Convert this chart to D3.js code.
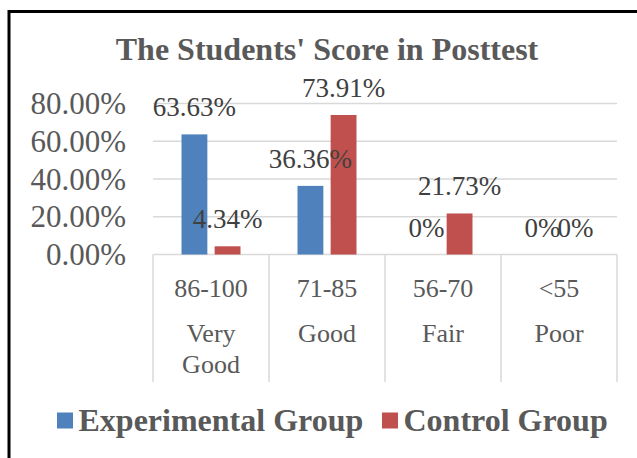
<!DOCTYPE html>
<html>
<head>
<meta charset="utf-8">
<script src="https://cdn.jsdelivr.net/npm/d3@7"></script>
<style>
  body { margin: 0; background: #fff; }
  text { font-family: "Liberation Serif", "Times New Roman", serif; }
</style>
</head>
<body>
<div id="chart"></div>
<script>
var categories = ["86-100", "71-85", "56-70", "<55"];
var categoryNames = [["Very", "Good"], ["Good"], ["Fair"], ["Poor"]];
var series = ["Experimental Group", "Control Group"];
var experimental = [63.63, 36.36, 0, 0];
var control = [4.34, 73.91, 21.73, 0];
var labelsExp = ["63.63%", "36.36%", "0%", "0%"];
var labelsCtl = ["4.34%", "73.91%", "21.73%", "0%"];
var yTicks = [0, 20, 40, 60, 80];

var width = 637;
var height = 458;
var colors = {"Experimental Group": "#4f81bd", "Control Group": "#c0504d"};

var svg = d3.select('#chart')
	.append('svg')
	.attr('width', width)
	.attr('height', height);

// outer frame (only top and left are visible in the picture)
svg.append('rect')
	.attr('x', 9)
	.attr('y', 11.5)
	.attr('width', 700)
	.attr('height', 600)
	.attr('fill', 'none')
	.attr('stroke', '#000')
	.attr('stroke-width', 3);

svg.append('text')
	.attr('x', 327)
	.attr('y', 60)
	.attr('text-anchor', 'middle')
	.attr('font-size', 32)
	.attr('font-weight', 'bold')
	.attr('fill', '#595959')
	.text("The Students' Score in Posttest");

var x0 = d3.scaleBand().domain(categories).range([153, 617]).paddingInner(0);
var x1 = d3.scaleBand().domain(series).range([28.5, 87.5]).paddingInner(0.22);
var y = d3.scaleLinear().domain([0, 80]).range([254.5, 103.5]);

// gridlines
svg.append('g')
	.selectAll('line')
	.data(yTicks)
	.enter()
	.append('line')
	.attr('x1', 153)
	.attr('x2', 617)
	.attr('y1', function (d) { return y(d); })
	.attr('y2', function (d) { return y(d); })
	.attr('stroke', '#d9d9d9')
	.attr('stroke-width', 1.5);

// y axis labels
var yAxis = d3.axisLeft(y)
	.tickValues(yTicks)
	.tickSize(0)
	.tickPadding(0)
	.tickFormat(function (d) { return d3.format('.2f')(d) + '%'; });
var yg = svg.append('g')
	.attr('transform', 'translate(126, 0)')
	.call(yAxis);
yg.select('.domain').remove();
yg.selectAll('text')
	.attr('font-size', 31)
	.attr('fill', '#595959')
	.attr('dy', '0.33em')
	.style('font-family', '"Liberation Serif", serif');

// category table lines
var seps = categories.map(function (c) { return x0(c); }).concat([617]);
svg.append('g')
	.selectAll('line')
	.data(seps)
	.enter()
	.append('line')
	.attr('x1', function (d) { return d; })
	.attr('x2', function (d) { return d; })
	.attr('y1', y(0))
	.attr('y2', 382)
	.attr('stroke', '#d9d9d9')
	.attr('stroke-width', 1.5);

// bars
var rows = [];
categories.forEach(function (c, i) {
    rows.push({cat: c, s: series[0], v: experimental[i], label: labelsExp[i]});
    rows.push({cat: c, s: series[1], v: control[i], label: labelsCtl[i]});
});

svg.append('g')
	.selectAll('rect')
	.data(rows)
	.enter()
	.append('rect')
	.attr('x', function (d) { return x0(d.cat) + x1(d.s); })
	.attr('y', function (d) { return y(d.v); })
	.attr('width', x1.bandwidth())
	.attr('height', function (d) { return y(0) - y(d.v); })
	.attr('fill', function (d) { return colors[d.s]; });

svg.append('g')
	.selectAll('text')
	.data(rows)
	.enter()
	.append('text')
	.attr('x', function (d) { return x0(d.cat) + x1(d.s) + x1.bandwidth() / 2; })
	.attr('y', function (d) { return y(d.v) - 18; })
	.attr('text-anchor', 'middle')
	.attr('font-size', 27)
	.attr('fill', '#404040')
	.text(function (d) { return d.label; });

// category labels
var cl = svg.append('g')
	.selectAll('g')
	.data(categories)
	.enter()
	.append('g')
	.attr('transform', function (d) { return 'translate(' + (x0(d) + x0.bandwidth() / 2) + ',0)'; });
cl.append('text')
	.attr('y', 297)
	.attr('text-anchor', 'middle')
	.attr('font-size', 26)
	.attr('fill', '#595959')
	.text(function (d) { return d; });
cl.each(function (d, i) {
    var g = d3.select(this);
    categoryNames[i].forEach(function (w, j) {
	g.append('text')
		.attr('y', 342 + j * 31)
		.attr('text-anchor', 'middle')
		.attr('font-size', 26)
		.attr('fill', '#595959')
		.text(w);
    });
});

// legend
var legendX = [57, 382];
var lg = svg.append('g')
	.selectAll('g')
	.data(series)
	.enter()
	.append('g')
	.attr('transform', function (d, i) { return 'translate(' + legendX[i] + ',0)'; });
lg.append('rect')
	.attr('x', 0)
	.attr('y', 412.5)
	.attr('width', 16)
	.attr('height', 16)
	.attr('fill', function (d) { return colors[d]; });
lg.append('text')
	.attr('x', 21.5)
	.attr('y', 431)
	.attr('font-size', 32)
	.attr('font-weight', 'bold')
	.attr('fill', '#595959')
	.text(function (d) { return d; });
</script>
</body>
</html>
